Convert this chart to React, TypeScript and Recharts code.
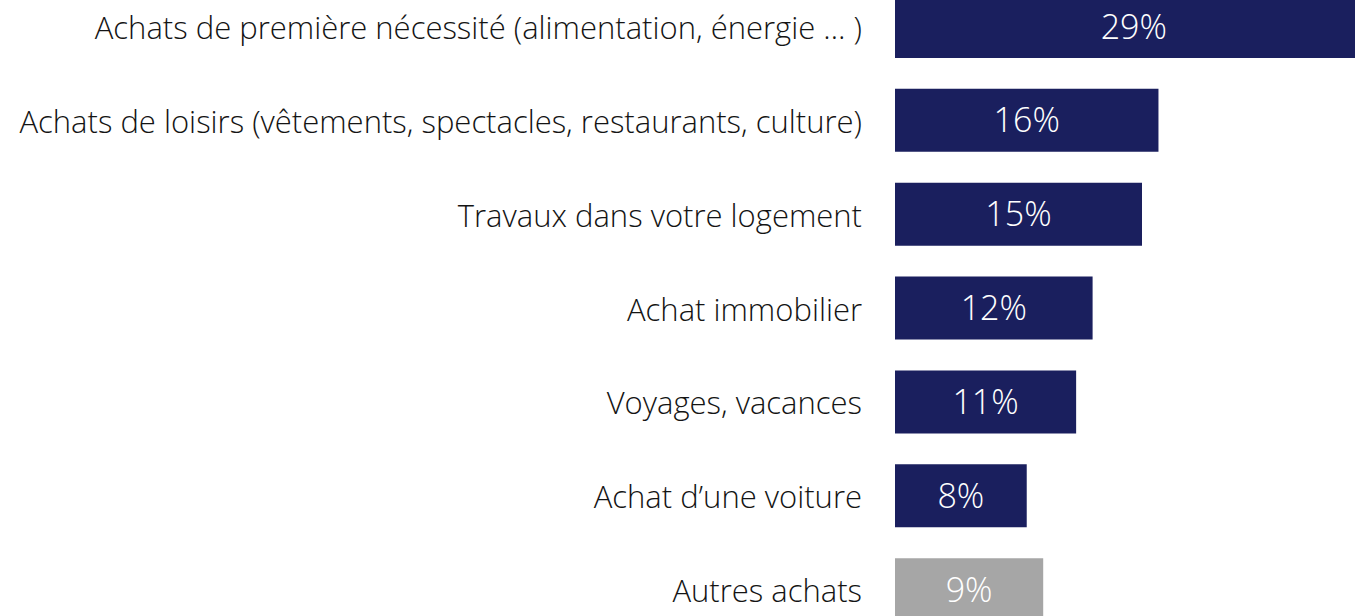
import React from "react";
import { BarChart, Bar, XAxis, YAxis, Cell, LabelList } from "recharts";

const categories = [
  "Achats de première nécessité (alimentation, énergie … )",
  "Achats de loisirs (vêtements, spectacles, restaurants, culture)",
  "Travaux dans votre logement",
  "Achat immobilier",
  "Voyages, vacances",
  "Achat d’une voiture",
  "Autres achats",
];
const values = [29, 16, 15, 12, 11, 8, 9];
const otherCategory = "Autres achats";

const NAVY = "#1a1f5e";
const GRAY = "#a6a6a6";
const FONT = "'Open Sans', 'Noto Sans', sans-serif";

const data = categories.map((c, i) => ({ name: c, value: values[i] }));

const CategoryTick = (props: any) => {
  const { x, y, payload } = props;
  return (
    <text
      x={x}
      y={y}
      textAnchor="end"
      dominantBaseline="central"
      fill="#141414"
      fontFamily={FONT}
      fontWeight={300}
      fontSize={31}
    >
      {payload.value}
    </text>
  );
};

export default function App() {
  return (
    <div
      style={{
        position: "fixed",
        left: 0,
        top: 0,
        width: 1355,
        height: 616,
        overflow: "hidden",
        background: "#fff",
      }}
    >
      <div style={{ position: "absolute", left: 0, top: -20 }}>
        <BarChart
          width={1389}
          height={657}
          data={data}
          layout="vertical"
          margin={{ top: 0, right: 0, bottom: 0, left: 0 }}
          barSize={63}
        >
          <XAxis type="number" domain={[0, 30]} hide />
          <YAxis
            type="category"
            dataKey="name"
            width={895}
            axisLine={false}
            tickLine={false}
            tickSize={6}
            tickMargin={27}
            interval={0}
            tick={<CategoryTick />}
          />
          <Bar dataKey="value" isAnimationActive={false}>
            {data.map((d) => (
              <Cell key={d.name} fill={d.name === otherCategory ? GRAY : NAVY} />
            ))}
            <LabelList
              dataKey="value"
              position="center"
              formatter={(v: any) => `${v}%`}
              fill="#ffffff"
              fontFamily={FONT}
              fontWeight={300}
              fontSize={34}
            />
          </Bar>
        </BarChart>
      </div>
    </div>
  );
}
